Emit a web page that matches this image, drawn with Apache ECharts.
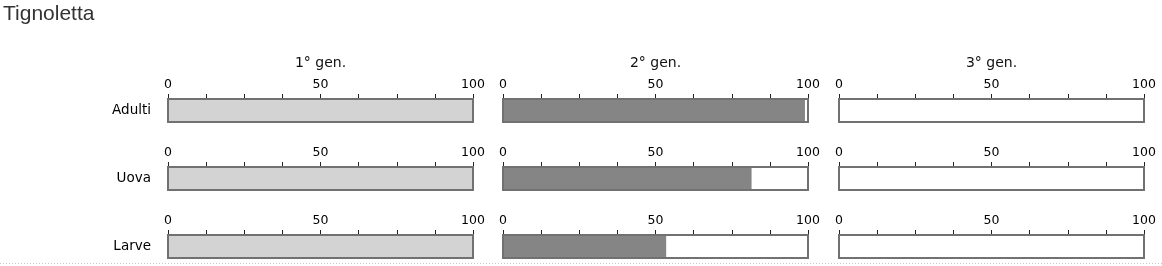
<!DOCTYPE html>
<html><head><meta charset="utf-8">
<script src="https://cdn.jsdelivr.net/npm/echarts@6/dist/echarts.min.js"></script>
<style>html,body{margin:0;padding:0;background:#fff}#c{width:1162px;height:266px}</style>
</head><body><div id="c"></div>
<script>
var chartTitle = 'Tignoletta';
var stages = ['Adulti', 'Uova', 'Larve'];
var generations = ['1° gen.', '2° gen.', '3° gen.'];
var gen1 = [100, 100, 100];
var gen2 = [99, 81.5, 53.5];
var gen3 = [0, 0, 0];
var tickValues = [0, 50, 100];

var genData = [gen1, gen2, gen3];
var genColors = ['#d3d3d3', '#858585', '#ffffff'];
var colLeft = [168, 503, 839];
var colWidth = 305;
var rowTop = [99, 167, 235];
var rowHeight = 23;
var font = 'DejaVu Sans';

var grids = [], xAxes = [], yAxes = [], series = [];
for (var r = 0; r < stages.length; r++) {
  for (var c = 0; c < generations.length; c++) {
    var i = grids.length;
    grids.push({
      left: colLeft[c], top: rowTop[r], width: colWidth, height: rowHeight,
      show: true, backgroundColor: 'transparent', borderColor: '#717171', borderWidth: 2, z: 10
    });
    xAxes.push({
      gridIndex: i, type: 'value', position: 'top', min: 0, max: 100, interval: 12.5,
      name: r === 0 ? generations[c] : '', nameLocation: 'middle', nameGap: 29,
      nameTextStyle: { fontFamily: font, fontSize: 14, color: '#111' },
      axisLine: { show: true, lineStyle: { color: '#555', width: 1 } },
      axisTick: { show: true, length: 5, lineStyle: { color: '#222' } },
      splitLine: { show: false },
      axisLabel: {
        margin: 8, fontFamily: font, fontSize: 12.5, color: '#000', showMaxLabel: true, showMinLabel: true,
        formatter: function (v) { return tickValues.indexOf(v) >= 0 ? String(v) : ''; }
      }
    });
    yAxes.push({
      gridIndex: i, type: 'category', data: [stages[r]],
      axisLine: { show: false }, axisTick: { show: false },
      axisLabel: { show: c === 0, margin: 17, fontFamily: font, fontSize: 13.5, color: '#000' }
    });
    series.push({
      type: 'bar', xAxisIndex: i, yAxisIndex: i, barWidth: '100%',
      data: [genData[c][r]], itemStyle: { color: genColors[c] }, silent: true, animation: false
    });
  }
}

var chart = echarts.init(document.getElementById('c'), null, { renderer: 'canvas' });
chart.setOption({
  animation: false,
  title: { text: chartTitle, left: 3, top: 4, padding: 0, textStyle: { fontFamily: 'Liberation Sans', fontSize: 21, fontWeight: 'normal', color: '#333' } },
  grid: grids, xAxis: xAxes, yAxis: yAxes, series: series,
  graphic: [{ type: 'line', shape: { x1: 0, y1: 263.5, x2: 1162, y2: 263.5 }, style: { stroke: '#c8c8c8', lineWidth: 1, lineDash: [1, 2] } }]
});
</script></body></html>
